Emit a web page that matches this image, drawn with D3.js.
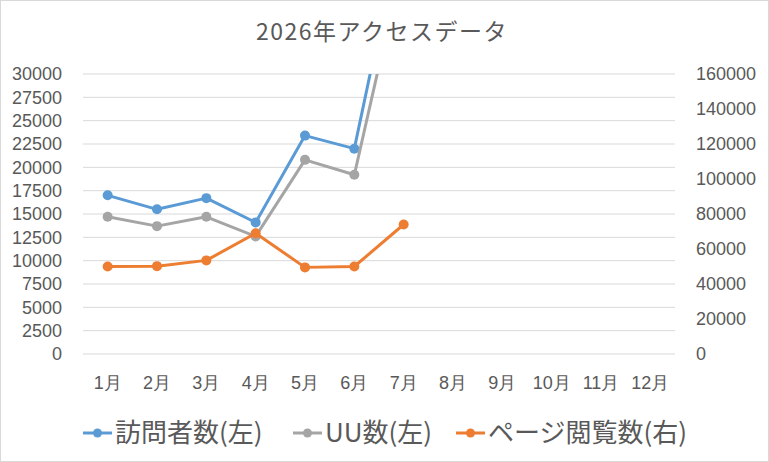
<!DOCTYPE html>
<html>
<head>
<meta charset="utf-8">
<script src="https://cdn.jsdelivr.net/npm/d3@7"></script>
<style>
  html, body { margin: 0; padding: 0; background: #fff; }
  svg { display: block; font-family: "Noto Sans CJK JP", "Noto Sans", sans-serif; }
</style>
</head>
<body>
<div id="chart"></div>
<script>
// data
const months = ["1月", "2月", "3月", "4月", "5月", "6月", "7月", "8月", "9月", "10月", "11月", "12月"];
const visitors = [17000, 15500, 16700, 14100, 23400, 22000, 47000];
const uniqueUsers = [14700, 13700, 14700, 12600, 20800, 19200, 42500];
const pageViews = [50000, 50200, 53500, 69000, 49500, 50000, 74000];
const leftTicks = d3.range(0, 30001, 2500);
const rightTicks = d3.range(0, 160001, 20000);

const width = 769, height = 462;
const margin = { top: 74, right: 94, bottom: 108, left: 83 };
const innerW = width - margin.left - margin.right;
const innerH = height - margin.top - margin.bottom;

const textColor = "#595959";

const svg = d3.select("#chart").append("svg")
    .attr("width", width)
    .attr("height", height);

// outer chart border
svg.append("rect")
    .attr("x", 0.5).attr("y", 0.5)
    .attr("width", width - 1).attr("height", height - 1)
    .attr("fill", "#fff")
    .attr("stroke", "#d9d9d9");

// title
svg.append("text")
    .attr("x", 382)
    .attr("y", 40)
    .attr("text-anchor", "middle")
    .attr("fill", textColor)
    .style("font-size", "23px")
    .style("letter-spacing", "1.5px")
    .text("2026年アクセスデータ");

const g = svg.append("g")
    .attr("transform", `translate(${margin.left},${margin.top})`);

// scales
const x = d3.scaleBand()
    .domain(months)
    .range([0, innerW]);

const yLeft = d3.scaleLinear()
    .domain([0, 30000])
    .range([innerH, 0]);

const yRight = d3.scaleLinear()
    .domain([0, 160000])
    .range([innerH, 0]);

// gridlines
g.append("g")
    .selectAll("line")
    .data(leftTicks)
    .join("line")
    .attr("x1", 0)
    .attr("x2", innerW)
    .attr("y1", d => yLeft(d))
    .attr("y2", d => yLeft(d))
    .attr("stroke", "#d9d9d9")
    .attr("stroke-width", 1);

// left axis
const leftAxis = g.append("g")
    .call(d3.axisLeft(yLeft).tickValues(leftTicks).tickSize(0).tickPadding(21).tickFormat(d3.format("d")));
leftAxis.select(".domain").remove();
leftAxis.selectAll("text")
    .attr("fill", textColor)
    .style("font-size", "18px");

// right axis
const rightAxis = g.append("g")
    .attr("transform", `translate(${innerW},0)`)
    .call(d3.axisRight(yRight).tickValues(rightTicks).tickSize(0).tickPadding(21).tickFormat(d3.format("d")));
rightAxis.select(".domain").remove();
rightAxis.selectAll("text")
    .attr("fill", textColor)
    .style("font-size", "18px");

// bottom axis (category labels)
const bottomAxis = g.append("g")
    .attr("transform", `translate(0,${innerH})`)
    .call(d3.axisBottom(x).tickSize(0).tickPadding(22));
bottomAxis.select(".domain").remove();
bottomAxis.selectAll("text")
    .attr("fill", textColor)
    .style("font-size", "18px");

// clip lines to plot area
svg.append("defs").append("clipPath")
    .attr("id", "plot-clip")
    .append("rect")
    .attr("x", -10)
    .attr("y", 0)
    .attr("width", innerW + 20)
    .attr("height", innerH + 10);

const plot = g.append("g").attr("clip-path", "url(#plot-clip)");

const series = [
    { name: "訪問者数(左)", values: visitors, scale: yLeft, color: "#5b9bd5" },
    { name: "UU数(左)", values: uniqueUsers, scale: yLeft, color: "#a5a5a5" },
    { name: "ページ閲覧数(右)", values: pageViews, scale: yRight, color: "#ed7d31" }
];

const cx = i => x(months[i]) + x.bandwidth() / 2;

series.forEach(s => {
    const line = d3.line()
        .x((d, i) => cx(i))
        .y(d => s.scale(d));

    plot.append("path")
        .datum(s.values)
        .attr("fill", "none")
        .attr("stroke", s.color)
        .attr("stroke-width", 3)
        .attr("stroke-linejoin", "round")
        .attr("d", line);

    plot.selectAll(null)
        .data(s.values)
        .join("circle")
        .attr("cx", (d, i) => cx(i))
        .attr("cy", d => s.scale(d))
        .attr("r", 5)
        .attr("fill", s.color);
});

// legend
const legendX = [83, 293, 456];
const legend = svg.append("g").attr("transform", "translate(0,433)");
series.forEach((s, i) => {
    const item = legend.append("g").attr("transform", `translate(${legendX[i]},0)`);
    item.append("line")
        .attr("x1", 0).attr("x2", 29)
        .attr("y1", 0).attr("y2", 0)
        .attr("stroke", s.color)
        .attr("stroke-width", 3);
    item.append("circle")
        .attr("cx", 14.5).attr("cy", 0)
        .attr("r", 4.5)
        .attr("fill", s.color);
    item.append("text")
        .attr("x", 32)
        .attr("y", 0)
        .attr("dy", "0.36em")
        .attr("fill", textColor)
        .style("font-size", "26px")
        .text(s.name);
});
</script>
</body>
</html>
